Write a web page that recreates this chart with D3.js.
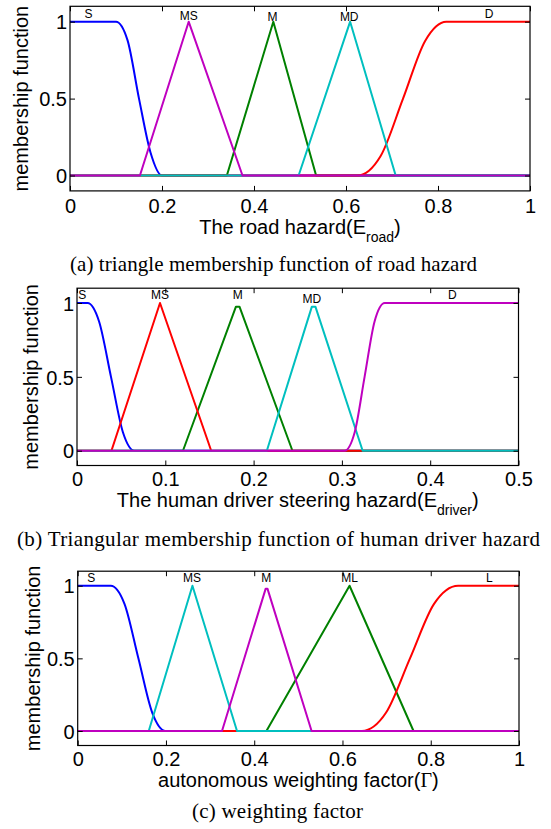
<!DOCTYPE html>
<html><head><meta charset="utf-8">
<script src="https://cdn.jsdelivr.net/npm/d3@7"></script>
<style>body{margin:0;background:#fff} svg{display:block}</style>
</head><body><svg id="chart" width="551" height="829"></svg>
<script>
// ---------- data ----------
const yTicks = [0, 0.5, 1];
const yTickLabels = ["0", "0.5", "1"];

const xTicksA = [0, 0.2, 0.4, 0.6, 0.8, 1];
const xTickLabelsA = ["0", "0.2", "0.4", "0.6", "0.8", "1"];
const xTicksB = [0, 0.1, 0.2, 0.3, 0.4, 0.5];
const xTickLabelsB = ["0", "0.1", "0.2", "0.3", "0.4", "0.5"];
const xTicksC = [0, 0.2, 0.4, 0.6, 0.8, 1];
const xTickLabelsC = ["0", "0.2", "0.4", "0.6", "0.8", "1"];

// (a) road hazard
const namesA = ["S", "MS", "M", "MD", "D"];
const labelXA = [0.04, 0.258, 0.44, 0.607, 0.911];
const labelYA = [1.049, 1.039, 1.032, 1.028, 1.05];
const roadS  = [[0,1],[0.1,1],[0.125,0.88],[0.15,0.5],[0.175,0.15],[0.2,0],[1,0]];
const roadMS = [[0,0],[0.152,0],[0.258,1],[0.375,0],[1,0]];
const roadM  = [[0,0],[0.341,0],[0.442,1],[0.535,0],[1,0]];
const roadMD = [[0,0],[0.497,0],[0.609,1],[0.708,0],[1,0]];
const roadD  = [[0,0],[0.625,0],[0.675,0.125],[0.724,0.5],[0.772,0.875],[0.818,1],[1,1]];

// (b) human driver hazard
const namesB = ["S", "MS", "M", "MD", "D"];
const labelXB = [0.006, 0.094, 0.182, 0.266, 0.425];
const labelYB = [1.054, 1.054, 1.054, 1.025, 1.054];
const drvS  = [[0,1],[0.012,1],[0.025,0.875],[0.0385,0.5],[0.052,0.125],[0.065,0],[0.5,0]];
const drvMS = [[0,0],[0.039,0],[0.094,1],[0.152,0],[0.5,0]];
const drvM  = [[0,0],[0.12,0],[0.18,0.975],[0.184,0.975],[0.244,0],[0.5,0]];
const drvMD = [[0,0],[0.215,0],[0.266,0.975],[0.27,0.975],[0.3235,0],[0.5,0]];
const drvD  = [[0,0],[0.303,0],[0.3145,0.125],[0.3257,0.5],[0.337,0.875],[0.3485,1],[0.5,1]];

// (c) weighting factor
const namesC = ["S", "MS", "M", "ML", "L"];
const labelXC = [0.031, 0.259, 0.427, 0.616, 0.933];
const labelYC = [1.055, 1.055, 1.055, 1.055, 1.055];
const wS  = [[0,1],[0.075,1],[0.106,0.875],[0.1375,0.5],[0.169,0.125],[0.199,0],[1,0]];
const wMS = [[0,0],[0.161,0],[0.26,1],[0.361,0],[1,0]];
const wM  = [[0,0],[0.327,0],[0.426,0.98],[0.43,0.98],[0.53,0],[1,0]];
const wML = [[0,0],[0.4276,0],[0.616,1],[0.761,0],[1,0]];
const wL  = [[0,0],[0.644,0],[0.6985,0.125],[0.753,0.5],[0.8075,0.875],[0.862,1],[1,1]];

// ---------- drawing ----------
const BLUE = "#0000ff", GREEN = "#008000", RED = "#ff0000", CYAN = "#00bfbf", MAGENTA = "#bf00bf";
const svg = d3.select("#chart");
const SANS = "'Liberation Sans', Arial, sans-serif";
const SERIF = "'Liberation Serif', 'Times New Roman', serif";

const panels = [
  { x0: 70, x1: 530, yTop: 6.3, yBot: 190.9, xmax: 1, xticks: xTicksA, xlabels: xTickLabelsA,
    names: namesA, lx: labelXA, ly: labelYA, tickPad: 8.2,
    // drawing order: blue, green, red, cyan, magenta
    series: [[roadS, BLUE, true], [roadM, GREEN, false], [roadD, RED, true], [roadMD, CYAN, false], [roadMS, MAGENTA, false]],
    yLabX: 28, xLabY: 234, xLab: ["The road hazard(E", "road", ")"], capY: 271, capX: 273.5, capW: 407,
    caption: "(a) triangle membership function of road hazard" },
  { x0: 77, x1: 518.5, yTop: 288.2, yBot: 465.5, xmax: 0.5, xticks: xTicksB, xlabels: xTickLabelsB,
    names: namesB, lx: labelXB, ly: labelYB, tickPad: 6.6,
    series: [[drvS, BLUE, true], [drvM, GREEN, false], [drvMS, RED, false], [drvMD, CYAN, false], [drvD, MAGENTA, true]],
    yLabX: 38, xLabY: 507, xLab: ["The human driver steering hazard(E", "driver", ")"], capY: 546, capX: 278.5, capW: 523,
    caption: "(b) Triangular membership function of human driver hazard" },
  { x0: 77.7, x1: 519, yTop: 571.2, yBot: 745.5, xmax: 1, xticks: xTicksC, xlabels: xTickLabelsC,
    names: namesC, lx: labelXC, ly: labelYC, tickPad: 6,
    series: [[wS, BLUE, true], [wML, GREEN, false], [wL, RED, true], [wMS, CYAN, false], [wM, MAGENTA, false]],
    yLabX: 40, xLabY: 786.5, xLab: null, capY: 818, capX: 277.5, capW: 171,
    caption: "(c) weighting factor" }
];

panels.forEach(p => {
  const x = d3.scaleLinear().domain([0, p.xmax]).range([p.x0, p.x1]);
  const y = d3.scaleLinear().domain([-0.1, 1.1]).range([p.yBot, p.yTop]);
  const g = svg.append("g");

  // curves
  p.series.forEach(([pts, color, smooth]) => {
    const line = d3.line().x(d => x(d[0])).y(d => y(d[1]))
      .curve(smooth ? d3.curveMonotoneX : d3.curveLinear);
    g.append("path").attr("d", line(pts)).attr("fill", "none")
      .attr("stroke", color).attr("stroke-width", 2).attr("stroke-linejoin", "round");
  });

  // axes (ticks inward)
  const ax = g.append("g").attr("transform", `translate(0,${p.yBot})`)
    .call(d3.axisBottom(x).tickValues(p.xticks).tickSize(-5).tickSizeOuter(0).tickPadding(p.tickPad)
      .tickFormat((d, i) => p.xlabels[i]));
  const at = g.append("g").attr("transform", `translate(0,${p.yTop})`)
    .call(d3.axisTop(x).tickValues(p.xticks).tickSize(-5).tickSizeOuter(0).tickFormat(""));
  const ay = g.append("g").attr("transform", `translate(${p.x0},0)`)
    .call(d3.axisLeft(y).tickValues(yTicks).tickSize(-5).tickSizeOuter(0).tickPadding(3)
      .tickFormat((d, i) => yTickLabels[i]));
  const ar = g.append("g").attr("transform", `translate(${p.x1},0)`)
    .call(d3.axisRight(y).tickValues(yTicks).tickSize(-5).tickSizeOuter(0).tickFormat(""));
  [ax, at, ay, ar].forEach(a => {
    a.select(".domain").remove();
    a.selectAll("line").attr("stroke", "#000").attr("stroke-width", 1);
    a.selectAll("text").attr("font-family", SANS).attr("font-size", 20).attr("fill", "#000");
  });
  ay.selectAll("text").attr("dy", "0.36em");

  // box
  g.append("rect").attr("x", p.x0).attr("y", p.yTop)
    .attr("width", p.x1 - p.x0).attr("height", p.yBot - p.yTop)
    .attr("fill", "none").attr("stroke", "#000").attr("stroke-width", 1.2);

  // function names
  p.names.forEach((n, i) => {
    g.append("text").attr("x", x(p.lx[i])).attr("y", y(p.ly[i]))
      .attr("text-anchor", "middle").attr("dominant-baseline", "central")
      .attr("font-family", SANS).attr("font-size", 12).attr("fill", "#000").text(n);
  });

  // y label
  const cy = (p.yTop + p.yBot) / 2;
  g.append("text").attr("transform", `translate(${p.yLabX},${cy}) rotate(-90)`)
    .attr("text-anchor", "middle").attr("font-family", SANS).attr("font-size", 20)
    .attr("fill", "#000").text("membership function");

  // x label
  const cx = (p.x0 + p.x1) / 2;
  const xl = g.append("text").attr("x", cx).attr("y", p.xLabY).attr("text-anchor", "middle")
    .attr("font-family", SANS).attr("font-size", 20).attr("fill", "#000");
  if (p.xLab) {
    xl.append("tspan").text(p.xLab[0]);
    xl.append("tspan").attr("font-size", 14).attr("dy", 8).text(p.xLab[1]);
    xl.append("tspan").attr("dy", -8).text(p.xLab[2]);
  } else {
    xl.append("tspan").text("autonomous weighting factor(");
    xl.append("tspan").attr("font-family", SERIF).text("Γ");
    xl.append("tspan").text(")");
  }

  // caption
  g.append("text").attr("x", p.capX).attr("y", p.capY).attr("text-anchor", "middle")
    .attr("font-family", SERIF).attr("font-size", 21).attr("fill", "#000")
    .attr("textLength", p.capW).attr("lengthAdjust", "spacing").text(p.caption);
});
</script>
</body></html>
